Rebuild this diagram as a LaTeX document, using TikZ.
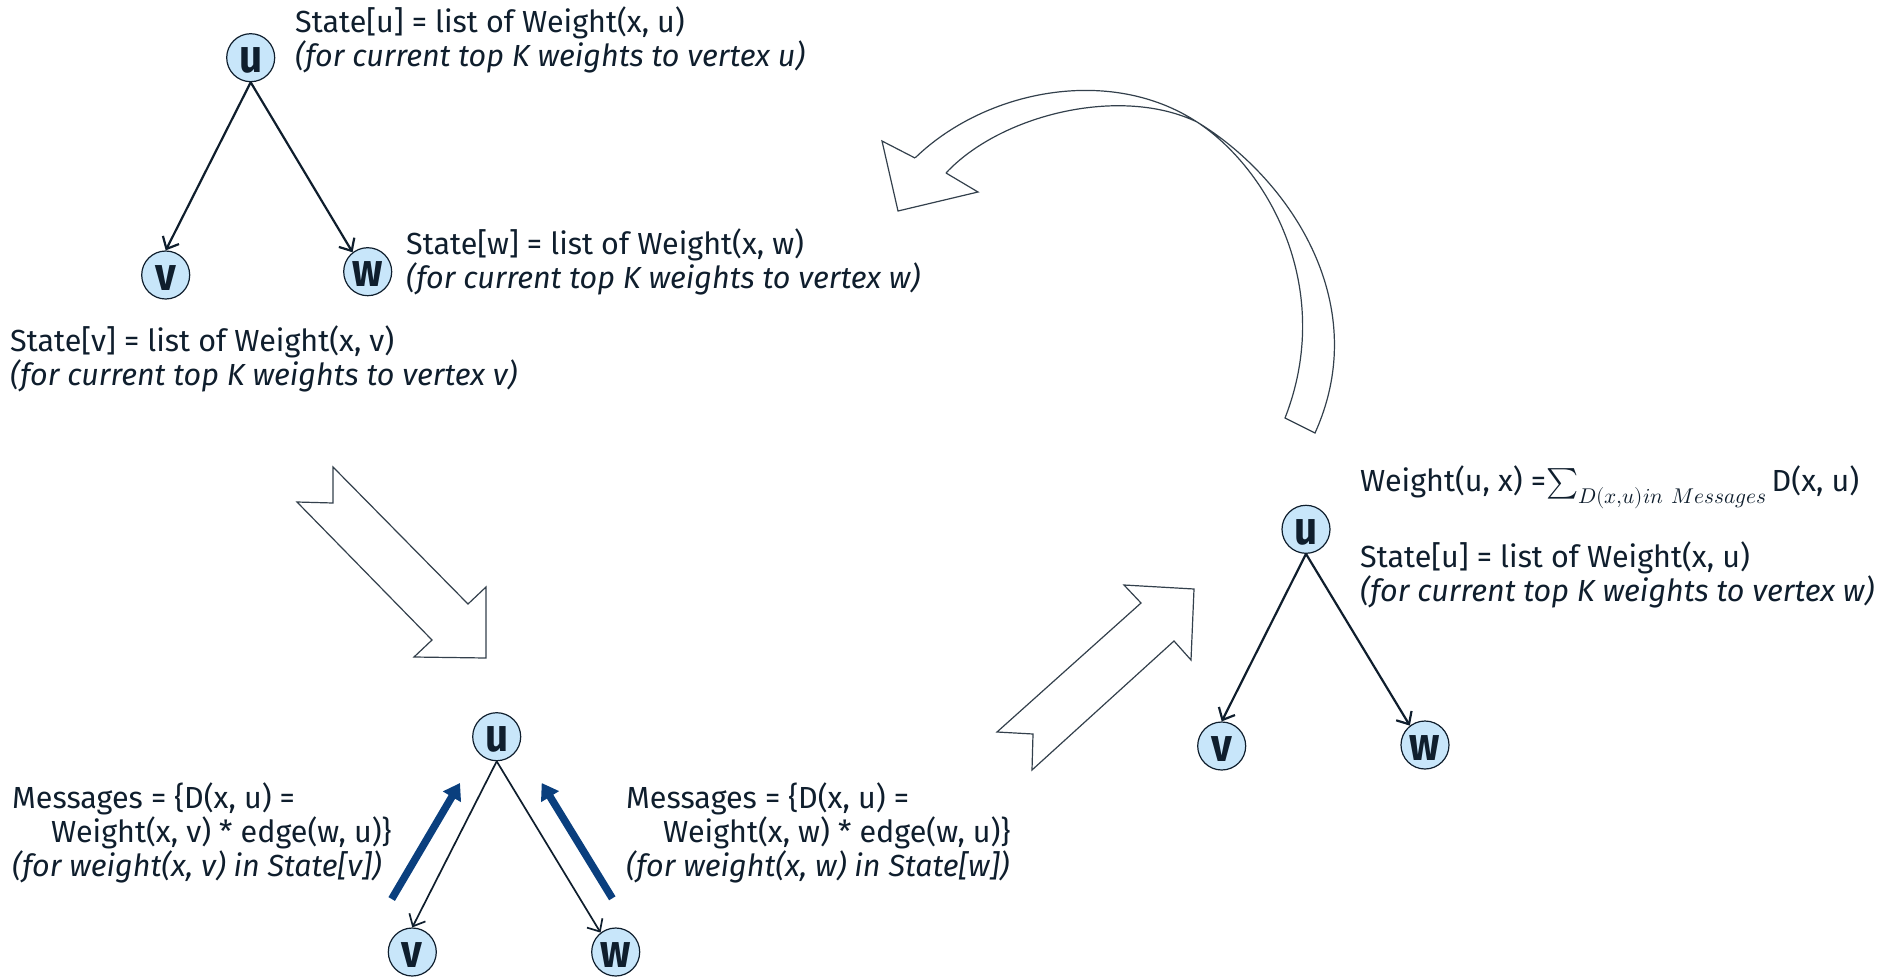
\documentclass[tikz,border=0pt]{standalone}
\usepackage{fontspec}
\usepackage{unicode-math}
\setmainfont{Fira Sans}
\setmathfont{Latin Modern Math}
\newfontfamily\vertexfont[FakeStretch=0.86]{Fira Sans}
\usetikzlibrary{arrows.meta}

\definecolor{ink}{HTML}{0F1E2D}
\definecolor{vertexfill}{HTML}{C8E6FA}
\definecolor{msgblue}{HTML}{0A3F7E}

\tikzset{
  vertex/.style={circle, draw=ink, line width=1.2pt, fill=vertexfill,
    minimum size=48pt, inner sep=0pt, text=ink, text height=30pt, text depth=0pt,
    font=\vertexfont\bfseries\fontsize{47}{47}\selectfont},
  edge/.style={draw=ink, line width=2.2pt, -{Straight Barb[length=10pt,width=18pt,line width=2.2pt]}},
  thinedge/.style={draw=ink, line width=1.7pt, -{Straight Barb[length=10pt,width=18pt,line width=1.7pt]}},
  msg/.style={draw=msgblue, line width=7.5pt, -{Triangle[length=16pt,width=20pt]}},
  note/.style={anchor=west, align=left, inner sep=0pt, text=ink,
    font=\fontsize{30.5}{34}\selectfont},
  blockarrow/.style={draw=ink!85, line width=1.2pt, fill=white, line join=miter},
}

\begin{document}
\begin{tikzpicture}[x=1pt, y=-1pt]
\useasboundingbox (0,0) rectangle (1887,977);

% ---------- first tree: states before the round ----------
\node[vertex] (u1) at (250.7,57.7) {u};
\node[vertex] (v1) at (165.7,275) {v};
\node[vertex] (w1) at (367.7,271.7) {w};
\draw[edge] (u1.south) -- (v1.north);
\draw[edge] (u1.south) -- (w1.128);

\node[note] (su1) at (295,40) {State[u] = list of Weight(x, u)\\\textit{(for current top K weights to vertex u)}};
\node[note] (sw1) at (406,262) {State[w] = list of Weight(x, w)\\\textit{(for current top K weights to vertex w)}};
\node[note] (sv1) at (10,359) {State[v] = list of Weight(x, v)\\\textit{(for current top K weights to vertex v)}};

% ---------- second tree: messages sent up to u ----------
\node[vertex] (u2) at (496.7,736.7) {u};
\node[vertex] (v2) at (412.3,952) {v};
\node[vertex] (w2) at (615.7,952) {w};
\draw[thinedge] (u2.south) -- (v2.north);
\draw[thinedge] (u2.south) -- (w2.128);

\coordinate (mlt) at (391.7,899);
\coordinate (mlh) at (460,783);
\coordinate (mrt) at (612.3,898.3);
\coordinate (mrh) at (541.7,783);
\draw[msg] (mlt) -- (mlh);
\draw[msg] (mrt) -- (mrh);

\node[note] (ml) at (12,833) {Messages = \{D(x, u) =\\\hspace*{39pt}Weight(x, v) * edge(w, u)\}\\\textit{(for weight(x, v) in State[v])}};
\node[note] (mr) at (626,833) {Messages = \{D(x, u) =\\\hspace*{37pt}Weight(x, w) * edge(w, u)\}\\\textit{(for weight(x, w) in State[w])}};

% ---------- third tree: aggregated weights at u ----------
\node[vertex] (u3) at (1306,529.3) {u};
\node[vertex] (v3) at (1221.7,746) {v};
\node[vertex] (w3) at (1425,745) {w};
\draw[edge] (u3.south) -- (v3.north);
\draw[edge] (u3.south) -- (w3.128);

\node[note] (agg) at (1360,487) {Weight(u, x) =$\textstyle\sum_{D(x,u)in\ Messages}$\,D(x, u)};
\node[note] (su3) at (1360,575) {State[u] = list of Weight(x, u)\\\textit{(for current top K weights to vertex w)}};

% ---------- block arrows between the steps ----------
\draw[blockarrow] (333,467) -- (333,503) -- (297,502) -- (432,640) -- (414,657)
  -- (486,658) -- (486,587) -- (468,604) -- cycle;
\draw[blockarrow] (1124,585) -- (1194,589) -- (1191,660) -- (1174,641)
  -- (1032,770) -- (1033,734) -- (997,732) -- (1141,603) -- cycle;

% curved arrow back to the first step
\draw[blockarrow, fill=none] (915,158) .. controls (985,90) and (1110,65) .. (1197,122)
  .. controls (1285,175) and (1375,300) .. (1315,433) -- (1285,418)
  .. controls (1335,290) and (1270,170) .. (1197,122)
  .. controls (1120,85) and (1000,115) .. (946,173);
\draw[blockarrow] (915,158) -- (882,141) -- (898,211) -- (978,192) -- (946,173);
\end{tikzpicture}
\end{document}
